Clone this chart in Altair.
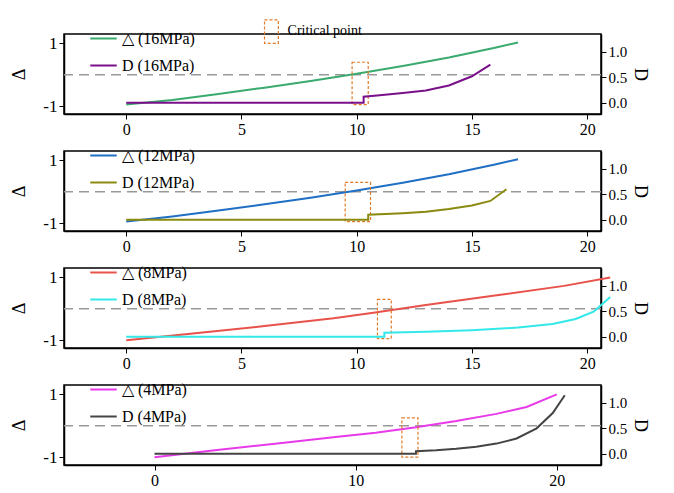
import altair as alt
import pandas as pd

FONT = "Liberation Serif"

labels = ["16MPa", "12MPa", "8MPa", "4MPa"]
delta_colors = ["#3aaa6e", "#1f6fc4", "#e8524a", "#e83ae8"]
d_colors = ["#7a0f8a", "#8a8a10", "#33e8e8", "#444444"]

delta_x = [
    [0, 2, 4, 6, 8, 10, 12, 14, 16, 17],
    [0, 2, 4, 6, 8, 10, 12, 14, 16, 17],
    [0, 3, 6, 9, 10.8, 13, 16, 19, 21],
    [0, 3, 6, 9, 11, 13, 15, 17, 18.5, 20],
]
delta_y = [
    [-0.95, -0.8, -0.61, -0.41, -0.2, 0.03, 0.28, 0.55, 0.86, 1.03],
    [-0.95, -0.79, -0.6, -0.4, -0.19, 0.04, 0.29, 0.56, 0.87, 1.04],
    [-1.0, -0.78, -0.55, -0.3, -0.12, 0.12, 0.42, 0.73, 1.0],
    [-1.0, -0.78, -0.57, -0.36, -0.22, -0.05, 0.15, 0.38, 0.6, 1.0],
]
d_x = [
    [0, 10.3, 10.3, 11, 12, 13, 14, 15, 15.8],
    [0, 10.5, 10.5, 12, 13, 14, 15, 15.8, 16.5],
    [0, 11.2, 11.2, 13, 15, 17, 18.5, 19.5, 20.3, 21],
    [0, 13, 13, 14, 15, 16, 17, 18, 19, 19.8, 20.4],
]
d_y = [
    [0.0, 0.0, 0.12, 0.15, 0.19, 0.24, 0.34, 0.52, 0.75],
    [0.0, 0.0, 0.1, 0.13, 0.16, 0.21, 0.28, 0.37, 0.6],
    [0.0, 0.0, 0.08, 0.1, 0.13, 0.18, 0.25, 0.35, 0.5, 0.78],
    [0.0, 0.0, 0.05, 0.07, 0.1, 0.14, 0.2, 0.3, 0.5, 0.8, 1.15],
]
crit_x = [(9.8, 10.5), (9.5, 10.6), (10.9, 11.5), (12.3, 13.1)]
crit_y = [(-0.95, 0.4), (-0.95, 0.3), (-0.95, 0.3), (-1.0, 0.25)]
x_domains = [(-2.7, 20.6), (-2.7, 20.6), (-2.7, 20.6), (-4.5, 22.2)]
x_ticks = [[0, 5, 10, 15, 20]] * 3 + [[0, 10, 20]]

W, H = 537, 80


def panel(i):
    xs = alt.Scale(domain=list(x_domains[i]), nice=False, zero=False)
    ys = alt.Scale(domain=[-1.25, 1.3], nice=False)
    ds = alt.Scale(domain=[-0.22, 1.35], nice=False)
    xaxis = alt.Axis(values=x_ticks[i], title="Stress(MPa)" if i == 3 else None,
                     grid=False, domainColor="black", tickColor="black",
                     labelFont=FONT, labelFontSize=16, labelColor="black",
                     titleFont=FONT, titleFontSize=20, titleFontWeight="normal",
                     titleColor="black", tickSize=5, titlePadding=14)
    name_d = f"△ ({labels[i]})"
    name_D = f"D ({labels[i]})"
    df1 = pd.DataFrame({"x": delta_x[i], "y": delta_y[i], "s": name_d})
    df2 = pd.DataFrame({"x": d_x[i], "y": d_y[i], "s": name_D})
    color = alt.Color("s:N", scale=alt.Scale(domain=[name_d, name_D],
                                             range=[delta_colors[i], d_colors[i]]),
                      legend=alt.Legend(title=None, orient="none", legendX=25, legendY=-10,
                                        symbolType="stroke", symbolSize=700,
                                        symbolStrokeWidth=2, labelFont=FONT,
                                        labelFontSize=16, labelColor="black",
                                        rowPadding=4))
    l1 = alt.Chart(df1).mark_line(strokeWidth=2).encode(
        x=alt.X("x:Q", scale=xs, axis=xaxis),
        y=alt.Y("y:Q", scale=ys, axis=alt.Axis(values=[-1, 0, 1], title="Δ", grid=False,
                                               labelExpr="replace(datum.label, '−', '-')",
                                               domainColor="black", tickColor="black",
                                               labelFont=FONT, labelFontSize=17,
                                               labelColor="black", titleFont=FONT,
                                               titleFontSize=18, titleFontWeight="normal",
                                               titleColor="black", titlePadding=14)),
        color=color)
    rule = alt.Chart(pd.DataFrame({"y": [0]})).mark_rule(
        color="#999999", strokeDash=[10, 6], strokeWidth=1.5).encode(
        y=alt.Y("y:Q", scale=ys))
    crit = pd.DataFrame({"x": [crit_x[i][0]], "x2": [crit_x[i][1]],
                         "y": [crit_y[i][0]], "y2": [crit_y[i][1]]})
    box = alt.Chart(crit).mark_rect(fill=None, stroke="#e07b28", strokeDash=[3, 2],
                                    strokeWidth=1.2).encode(
        x=alt.X("x:Q", scale=xs), x2="x2", y=alt.Y("y:Q", scale=ys), y2="y2")
    left = alt.layer(rule, l1, box)
    l2 = alt.Chart(df2).mark_line(strokeWidth=2).encode(
        x=alt.X("x:Q", scale=xs),
        y=alt.Y("y:Q", scale=ds, axis=alt.Axis(orient="right", values=[0, 0.5, 1],
                                               format=".1f", title="D", grid=False,
                                               domainColor="black", tickColor="black",
                                               labelFont=FONT, labelFontSize=15,
                                               labelColor="black", titleFont=FONT,
                                               titleFontSize=18, titleFontWeight="normal",
                                               titleColor="black")),
        color=color)
    layers = [left, l2]
    if i == 0:
        key = pd.DataFrame({"x": [6.0], "x2": [6.6], "y": [1.0], "y2": [1.75],
                            "t": ["Critical point"], "tx": [7.0], "ty": [1.38]})
        kb = alt.Chart(key).mark_rect(fill=None, stroke="#e07b28", strokeDash=[3, 2],
                                      strokeWidth=1.2, clip=False).encode(
            x=alt.X("x:Q", scale=xs), x2="x2", y=alt.Y("y:Q", scale=ys), y2="y2")
        kt = alt.Chart(key).mark_text(font=FONT, fontSize=14, align="left",
                                      clip=False).encode(
            x=alt.X("tx:Q", scale=xs), y=alt.Y("ty:Q", scale=ys), text="t:N")
        layers = [alt.layer(left, kb, kt), l2]
    return alt.layer(*layers).resolve_scale(y="independent").properties(width=W, height=H)


chart = alt.vconcat(*[panel(i) for i in range(4)], spacing=2).resolve_scale(
    color="independent", x="independent").configure_view(
    stroke="black", strokeWidth=1.5).configure_axis(domainWidth=1.5).properties(
    padding={"left": 2, "top": 10, "right": 5, "bottom": 5})

chart.save("out.html", embed_options={"renderer": "svg", "actions": False})
